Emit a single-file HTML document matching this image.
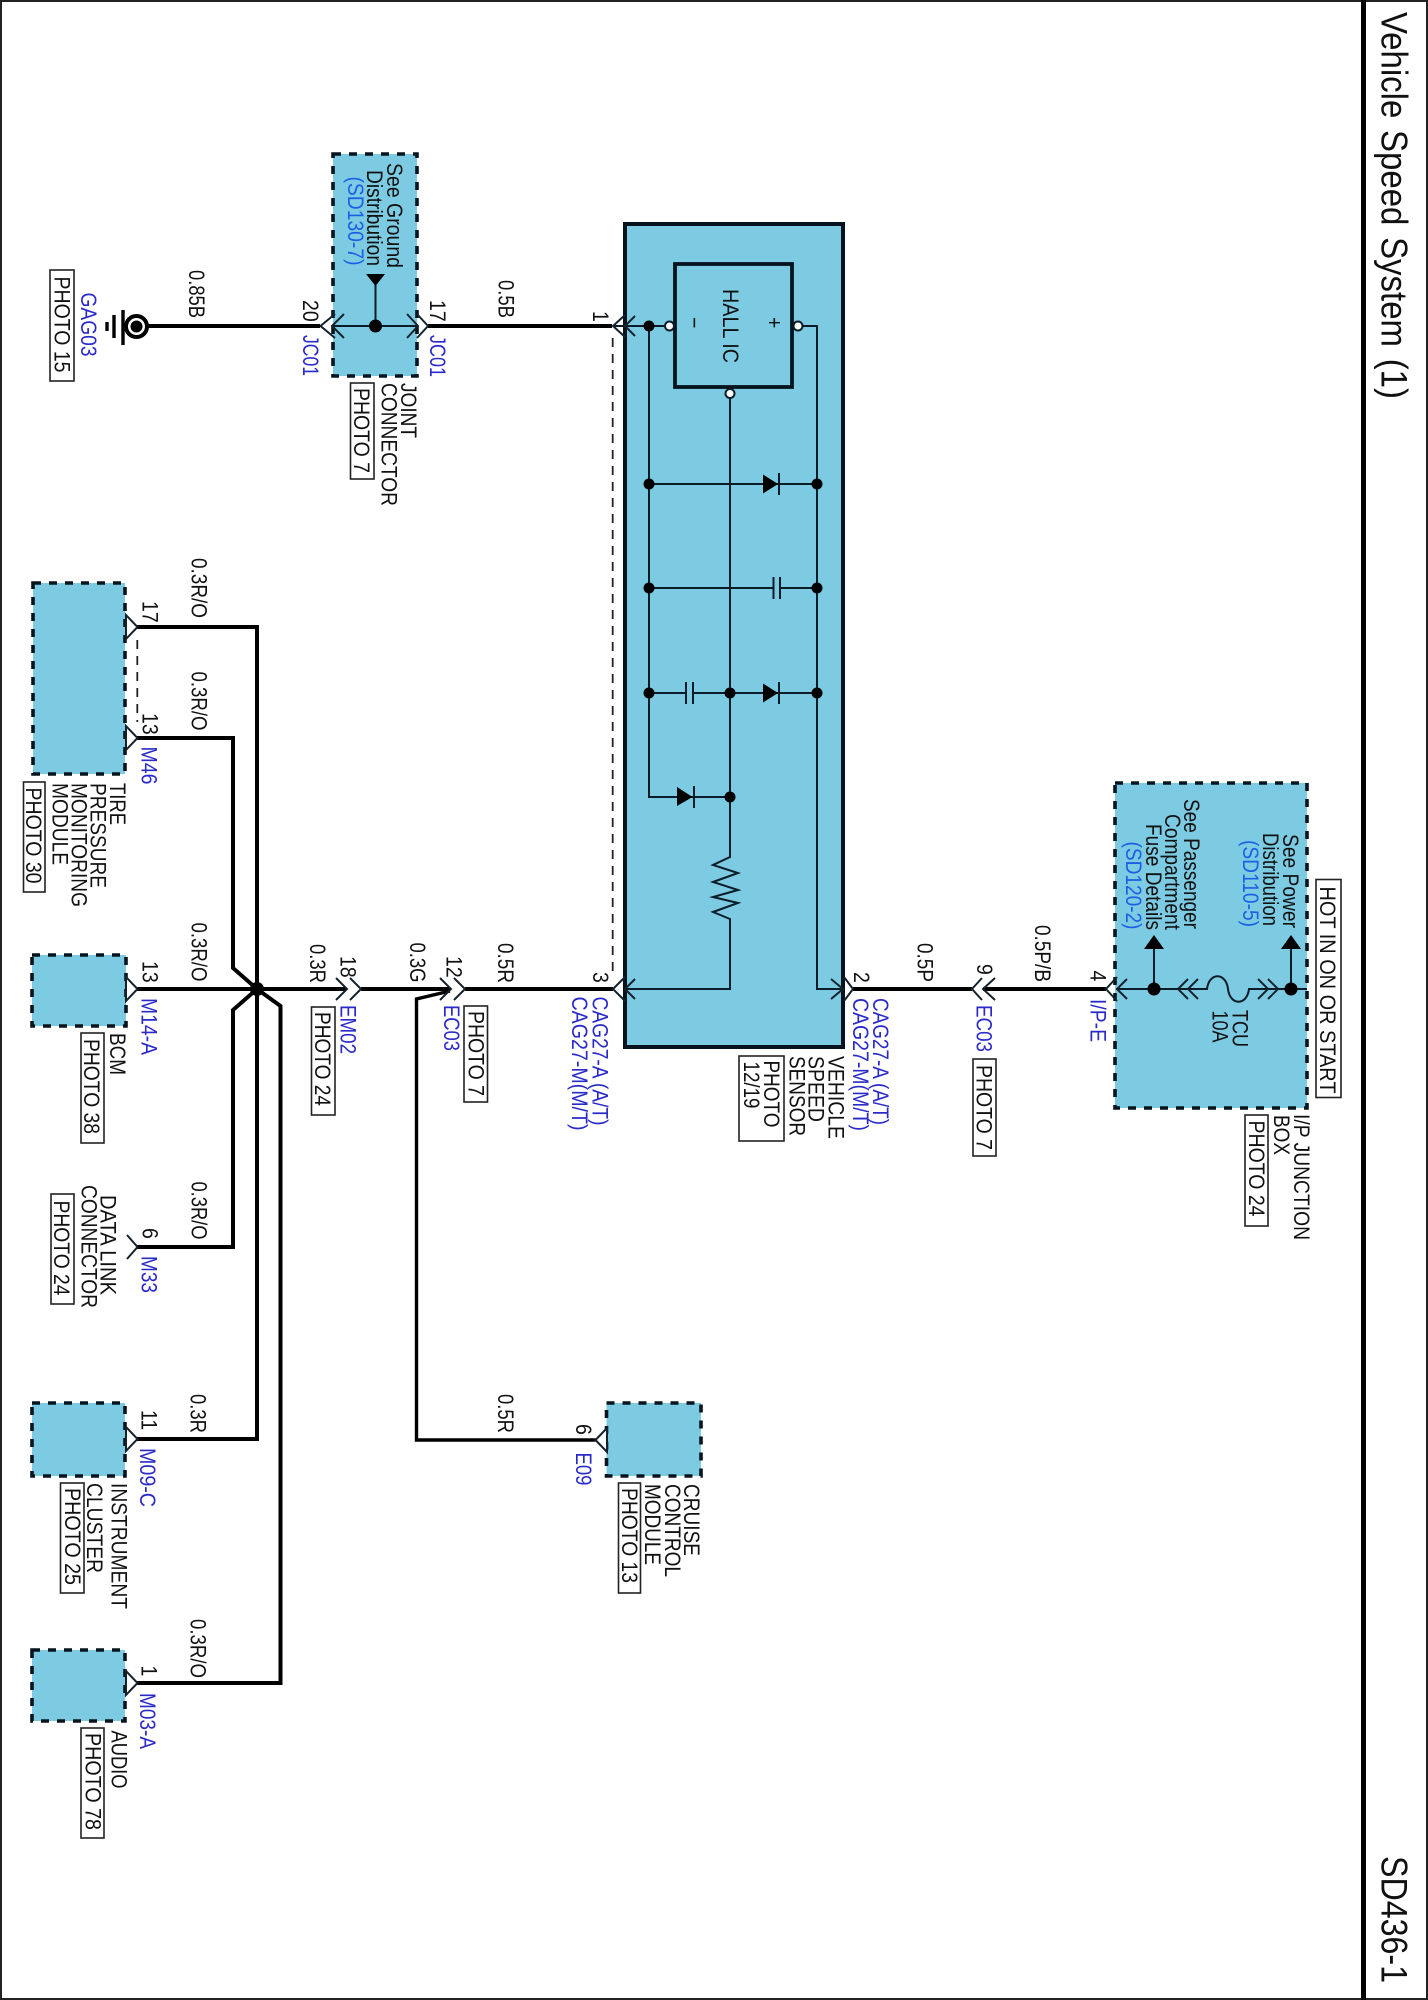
<!DOCTYPE html>
<html><head><meta charset="utf-8"><title>Vehicle Speed System (1)</title>
<style>
html,body{margin:0;padding:0;background:#fff}
svg{display:block}
text{font-family:"Liberation Sans",Arial,sans-serif;font-size:19.5px;fill:#111}
.b{fill:#2a2ac8}
.s{fill:#1b5fe6}
.box{fill:#7ccbe3;stroke:#06141e;stroke-width:3.6;stroke-dasharray:8 8}
.w{fill:none;stroke:#000;stroke-width:4}
.w3{fill:none;stroke:#000;stroke-width:3.4}
.t{fill:none;stroke:#0a1c28;stroke-width:2}
.c{fill:none;stroke:#14222c;stroke-width:2}
.m{fill:#fff;stroke:#14222c;stroke-width:2}
.p{fill:none;stroke:#222;stroke-width:1.8}
.d{fill:#000}
.o{fill:#fff;stroke:#0a1c28;stroke-width:2}
</style></head><body>
<svg width="1428" height="2000" viewBox="0 0 1428 2000" xmlns="http://www.w3.org/2000/svg">
<rect x="0" y="0" width="1428" height="2000" fill="#fff"/>
<!-- frame -->
<rect x="1" y="1" width="1426" height="1998" fill="none" stroke="#222" stroke-width="2"/>
<rect x="1361" y="0" width="5" height="2000" fill="#000"/>
<text transform="matrix(0 1 -1.15 0 1381.7 12)" style="font-size:32.5px" textLength="387" lengthAdjust="spacingAndGlyphs" word-spacing="2.5">Vehicle Speed System (1)</text>
<text transform="matrix(0 1 -1.15 0 1381.7 1856)" style="font-size:32px" textLength="127" lengthAdjust="spacingAndGlyphs">SD436-1</text>

<!-- module boxes -->
<rect class="box" x="333" y="154" width="84" height="222"/>
<rect class="box" x="33" y="583" width="92" height="191"/>
<rect class="box" x="32" y="955" width="94" height="71"/>
<rect class="box" x="32" y="1403" width="93" height="73"/>
<rect class="box" x="32" y="1650" width="93" height="71"/>
<rect class="box" x="606.5" y="1403" width="94.5" height="73"/>
<rect class="box" x="1115" y="783" width="192" height="325"/>
<!-- sensor -->
<rect x="625" y="224" width="218" height="823" fill="#7ccbe3" stroke="#04131d" stroke-width="4"/>
<rect x="675" y="264" width="117" height="123" fill="#7ccbe3" stroke="#04131d" stroke-width="3.8"/>

<!-- dashed shields -->
<path class="p" stroke-dasharray="9 7" d="M612.7 338V974"/>
<path class="p" stroke-dasharray="9 7" d="M137.3 640V722"/>

<!-- heavy wires -->
<path class="w" d="M148 326H320"/>
<path class="w" d="M428 326H612"/>
<path class="w" d="M137 627H257V1439H137"/>
<path class="w" d="M137 738H233V968L257 989L233 1010V1247H137"/>
<path class="w" d="M137 989H346"/>
<path class="w" d="M257 989L280.5 1006V1683H137"/>
<path class="w" d="M361 989H450"/>
<path class="w3" d="M450 991L416.5 999V1440H595.5"/>
<path class="w" d="M465 989H613"/>
<path class="w" d="M853 989H972"/>
<path class="w" d="M983 989H1106"/>
<circle class="d" cx="257" cy="989" r="7"/>

<!-- ground -->
<circle cx="136.5" cy="326.5" r="10.5" fill="#fff" stroke="#000" stroke-width="4"/>
<circle class="d" cx="136.5" cy="326.5" r="6"/>
<path d="M123 310V345M114 315V338M107 322V331" fill="none" stroke="#000" stroke-width="3.4"/>

<!-- JC01 internals -->
<path class="t" d="M332 326H418M375.5 285V326"/>
<polygon class="d" points="366,274 385,274 375.5,286"/>
<circle class="d" cx="375.5" cy="326" r="6.5"/>
<path class="c" d="M335 314L320.5 326L335 338"/>
<path class="c" d="M344 314L332 326L344 338"/>
<path class="c" d="M407 314L418 326L407 338"/>
<path class="c" d="M417 314L428 326L417 338"/>

<!-- sensor circuit -->
<path class="t" d="M613 326H664"/>
<path class="t" d="M649 326V797H730"/>
<path class="t" d="M730 398V857L713 865L738 873L713 882L738 890L713 897L738 903L713 912L730 919V989H625"/>
<path class="t" d="M803 326H817V989H843"/>
<path class="t" d="M649 484H817"/>
<path class="t" d="M649 588H773M780 588H817"/>
<path class="t" d="M649 693H686M693 693H817"/>
<path class="t" d="M773.5 577V599M780 577V599M686 682V704M693 682V704"/>
<path class="t" d="M779 473V495M779 682V704M694 786V808"/>
<polygon class="d" points="763,474.5 778,484 763,493.5"/>
<polygon class="d" points="763,683.5 778,693 763,702.5"/>
<polygon class="d" points="677,787 692.5,797 677,806"/>
<g class="d">
<circle cx="649" cy="326" r="5.5"/><circle cx="649" cy="484" r="5.5"/><circle cx="817" cy="484" r="5.5"/>
<circle cx="649" cy="588" r="5.5"/><circle cx="817" cy="588" r="5.5"/>
<circle cx="649" cy="693" r="5.5"/><circle cx="730" cy="693" r="5.5"/><circle cx="817" cy="693" r="5.5"/>
<circle cx="730" cy="797" r="5.5"/>
</g>
<circle class="o" cx="669.5" cy="326" r="4.5"/>
<circle class="o" cx="798" cy="326" r="4.5"/>
<circle class="o" cx="730" cy="393.5" r="4.5"/>
<path class="c" d="M625 315L613 326L625 337"/>
<path class="c" d="M635 316L625 326L635 336"/>
<path class="c" d="M625 977L613 989L625 1001"/>
<path class="c" d="M635 979L625 989L635 999"/>
<path class="c" d="M831 979L843 989L831 999"/>
<path class="c" d="M844 977L853 989L844 1001"/>

<!-- inline connectors -->
<path class="c" d="M336 978L347 989L336 1000"/>
<path class="c" d="M350 978L361 989L350 1000"/>
<path class="c" d="M440 978L451 989L440 1000"/>
<path class="c" d="M454 978L465 989L454 1000"/>
<path class="c" d="M982 978L972 989L982 1000"/>
<path class="c" d="M995 978L983 989L995 1000"/>

<!-- module connectors -->
<polygon class="m" points="126,615 137.5,627 126,639"/>
<polygon class="m" points="126,726 137.5,738 126,750"/>
<polygon class="m" points="126,977 137.5,989 126,1001"/>
<path class="c" d="M127 1235L137.5 1247L127 1259"/>
<polygon class="m" points="126,1427 137.5,1439 126,1451"/>
<polygon class="m" points="126,1671 137.5,1683 126,1695"/>
<polygon class="m" points="607,1428 595.5,1440 607,1452"/>

<!-- I/P junction internals -->
<path class="t" d="M1116 989H1207C1209 972 1226 972 1228 989C1230 1006 1247 1006 1249 989H1307"/>
<path class="t" d="M1154 949V989M1291 949V989"/>
<polygon class="d" points="1154,935 1164,949 1144,949"/>
<polygon class="d" points="1291,935 1301,949 1281,949"/>
<circle class="d" cx="1154" cy="989" r="6.5"/>
<circle class="d" cx="1291" cy="989" r="6.5"/>
<path class="c" d="M1117 977L1106 989L1117 1001"/>
<path class="c" d="M1127 979L1117 989L1127 999"/>
<path class="c" d="M1188 979L1178 989L1188 999"/>
<path class="c" d="M1198 979L1188 989L1198 999"/>
<path class="c" d="M1258 979L1268 989L1258 999"/>
<path class="c" d="M1268 979L1278 989L1268 999"/>

<!-- photo boxes -->
<g fill="#fff" stroke="#222" stroke-width="1.6">
<rect x="50" y="270" width="24" height="111"/>
<rect x="350.5" y="383" width="23.5" height="96"/>
<rect x="23.5" y="782" width="21.5" height="110"/>
<rect x="81" y="1033" width="23" height="110"/>
<rect x="311.5" y="1007" width="23.5" height="108"/>
<rect x="464" y="1006" width="23.5" height="96"/>
<rect x="51" y="1194" width="23" height="110"/>
<rect x="60.5" y="1483" width="23.5" height="110"/>
<rect x="81" y="1728" width="23" height="110"/>
<rect x="618.5" y="1483" width="22" height="110"/>
<rect x="739" y="1056" width="45" height="85"/>
<rect x="973" y="1059" width="23" height="97"/>
<rect x="1245" y="1115" width="23" height="111"/>
<rect x="1316" y="879.5" width="25" height="218"/>
</g>

<!-- labels -->
<g>
<text transform="matrix(0 1 -1.15 0 54.5 276.5)" textLength="96" lengthAdjust="spacingAndGlyphs">PHOTO 15</text>
<text class="b" transform="matrix(0 1 -1.15 0 81 292.5)" textLength="64" lengthAdjust="spacingAndGlyphs">GAG03</text>
<text transform="matrix(0 1 -1.15 0 189 270)" textLength="48" lengthAdjust="spacingAndGlyphs">0.85B</text>
<text transform="matrix(0 1 -1.15 0 303 300)">20</text>
<text class="b" transform="matrix(0 1 -1.15 0 303 335)" textLength="41" lengthAdjust="spacingAndGlyphs">JC01</text>
<text transform="matrix(0 1 -1.15 0 430 300)">17</text>
<text class="b" transform="matrix(0 1 -1.15 0 430 335)" textLength="42" lengthAdjust="spacingAndGlyphs">JC01</text>
<text transform="matrix(0 1 -1.15 0 498.5 280)" textLength="38" lengthAdjust="spacingAndGlyphs">0.5B</text>
<text transform="matrix(0 1 -1.15 0 593 311)">1</text>
<text transform="matrix(0 1 -1.15 0 387 163)" textLength="105" lengthAdjust="spacingAndGlyphs">See Ground</text>
<text transform="matrix(0 1 -1.15 0 367 170)" textLength="96" lengthAdjust="spacingAndGlyphs">Distribution</text>
<text class="s" transform="matrix(0 1 -1.15 0 348 176.5)" textLength="89" lengthAdjust="spacingAndGlyphs">(SD130-7)</text>
<text transform="matrix(0 1 -1.15 0 401 383)" textLength="55" lengthAdjust="spacingAndGlyphs">JOINT</text>
<text transform="matrix(0 1 -1.15 0 381.5 383)" textLength="123" lengthAdjust="spacingAndGlyphs">CONNECTOR</text>
<text transform="matrix(0 1 -1.15 0 354 388)" textLength="85" lengthAdjust="spacingAndGlyphs">PHOTO 7</text>

<text transform="matrix(0 1 -1.15 0 723 289)" textLength="74" lengthAdjust="spacingAndGlyphs">HALL IC</text>
<text transform="matrix(0 1 -1.15 0 687 317)">−</text>
<text transform="matrix(0 1 -1.15 0 767 317)">+</text>

<text transform="matrix(0 1 -1.15 0 191.5 558)" textLength="60" lengthAdjust="spacingAndGlyphs">0.3R/O</text>
<text transform="matrix(0 1 -1.15 0 191.5 671.5)" textLength="59" lengthAdjust="spacingAndGlyphs">0.3R/O</text>
<text transform="matrix(0 1 -1.15 0 191.5 922.5)" textLength="59" lengthAdjust="spacingAndGlyphs">0.3R/O</text>
<text transform="matrix(0 1 -1.15 0 191.5 1181.5)" textLength="58" lengthAdjust="spacingAndGlyphs">0.3R/O</text>
<text transform="matrix(0 1 -1.15 0 190.5 1619)" textLength="59" lengthAdjust="spacingAndGlyphs">0.3R/O</text>
<text transform="matrix(0 1 -1.15 0 190.5 1394)" textLength="39" lengthAdjust="spacingAndGlyphs">0.3R</text>

<text transform="matrix(0 1 -1.15 0 142.7 601)">17</text>
<text transform="matrix(0 1 -1.15 0 142.7 713)">13</text>
<text class="b" transform="matrix(0 1 -1.15 0 141.7 746.5)" textLength="38" lengthAdjust="spacingAndGlyphs">M46</text>
<text transform="matrix(0 1 -1.15 0 110 783)" textLength="42" lengthAdjust="spacingAndGlyphs">TIRE</text>
<text transform="matrix(0 1 -1.15 0 90.7 783)" textLength="105" lengthAdjust="spacingAndGlyphs">PRESSURE</text>
<text transform="matrix(0 1 -1.15 0 71.7 783)" textLength="124" lengthAdjust="spacingAndGlyphs">MONITORING</text>
<text transform="matrix(0 1 -1.15 0 52.3 783)" textLength="82" lengthAdjust="spacingAndGlyphs">MODULE</text>
<text transform="matrix(0 1 -1.15 0 26 787.5)" textLength="96" lengthAdjust="spacingAndGlyphs">PHOTO 30</text>

<text transform="matrix(0 1 -1.15 0 142.7 961)">13</text>
<text class="b" transform="matrix(0 1 -1.15 0 141.7 998)" textLength="57" lengthAdjust="spacingAndGlyphs">M14-A</text>
<text transform="matrix(0 1 -1.15 0 110 1033)" textLength="42" lengthAdjust="spacingAndGlyphs">BCM</text>
<text transform="matrix(0 1 -1.15 0 84 1039)" textLength="95" lengthAdjust="spacingAndGlyphs">PHOTO 38</text>

<text transform="matrix(0 1 -1.15 0 310 944)" textLength="39" lengthAdjust="spacingAndGlyphs">0.3R</text>
<text transform="matrix(0 1 -1.15 0 340.7 956)">18</text>
<text class="b" transform="matrix(0 1 -1.15 0 340.7 1005)" textLength="49" lengthAdjust="spacingAndGlyphs">EM02</text>
<text transform="matrix(0 1 -1.15 0 315 1012)" textLength="94" lengthAdjust="spacingAndGlyphs">PHOTO 24</text>
<text transform="matrix(0 1 -1.15 0 410 942.5)" textLength="40" lengthAdjust="spacingAndGlyphs">0.3G</text>
<text transform="matrix(0 1 -1.15 0 446.7 956)">12</text>
<text class="b" transform="matrix(0 1 -1.15 0 444 1005)" textLength="46" lengthAdjust="spacingAndGlyphs">EC03</text>
<text transform="matrix(0 1 -1.15 0 468.3 1011)" textLength="85" lengthAdjust="spacingAndGlyphs">PHOTO 7</text>
<text transform="matrix(0 1 -1.15 0 498 943)" textLength="40" lengthAdjust="spacingAndGlyphs">0.5R</text>

<text transform="matrix(0 1 -1.15 0 593 972)">3</text>
<text class="b" transform="matrix(0 1 -1.15 0 592.7 996.5)" textLength="129" lengthAdjust="spacingAndGlyphs">CAG27-A (A/T)</text>
<text class="b" transform="matrix(0 1 -1.15 0 572 996.5)" textLength="134" lengthAdjust="spacingAndGlyphs">CAG27-M(M/T)</text>
<text transform="matrix(0 1 -1.15 0 854 972)">2</text>
<text class="b" transform="matrix(0 1 -1.15 0 873 998)" textLength="127" lengthAdjust="spacingAndGlyphs">CAG27-A (A/T)</text>
<text class="b" transform="matrix(0 1 -1.15 0 853 998)" textLength="133" lengthAdjust="spacingAndGlyphs">CAG27-M(M/T)</text>
<text transform="matrix(0 1 -1.15 0 828.3 1056)" textLength="83" lengthAdjust="spacingAndGlyphs">VEHICLE</text>
<text transform="matrix(0 1 -1.15 0 808.3 1056)" textLength="66" lengthAdjust="spacingAndGlyphs">SPEED</text>
<text transform="matrix(0 1 -1.15 0 789.3 1056)" textLength="80" lengthAdjust="spacingAndGlyphs">SENSOR</text>
<text transform="matrix(0 1 -1.15 0 764 1060.5)" textLength="67" lengthAdjust="spacingAndGlyphs">PHOTO</text>
<text transform="matrix(0 1 -1.15 0 744 1061.5)" textLength="47" lengthAdjust="spacingAndGlyphs">12/19</text>

<text transform="matrix(0 1 -1.15 0 917.7 943)" textLength="39" lengthAdjust="spacingAndGlyphs">0.5P</text>
<text transform="matrix(0 1 -1.15 0 977 964)">9</text>
<text class="b" transform="matrix(0 1 -1.15 0 976.7 1005)" textLength="47" lengthAdjust="spacingAndGlyphs">EC03</text>
<text transform="matrix(0 1 -1.15 0 976.7 1065)" textLength="85" lengthAdjust="spacingAndGlyphs">PHOTO 7</text>
<text transform="matrix(0 1 -1.15 0 1035 925)" textLength="57" lengthAdjust="spacingAndGlyphs">0.5P/B</text>
<text transform="matrix(0 1 -1.15 0 1090.7 970.5)">4</text>
<text class="b" transform="matrix(0 1 -1.15 0 1090.7 999)" textLength="43" lengthAdjust="spacingAndGlyphs">I/P-E</text>

<text transform="matrix(0 1 -1.15 0 1184 799)" textLength="130" lengthAdjust="spacingAndGlyphs">See Passenger</text>
<text transform="matrix(0 1 -1.15 0 1165 814)" textLength="116" lengthAdjust="spacingAndGlyphs">Compartment</text>
<text transform="matrix(0 1 -1.15 0 1146 824)" textLength="106" lengthAdjust="spacingAndGlyphs">Fuse Details</text>
<text class="s" transform="matrix(0 1 -1.15 0 1126 841.5)" textLength="88" lengthAdjust="spacingAndGlyphs">(SD120-2)</text>
<text transform="matrix(0 1 -1.15 0 1283 834)" textLength="94" lengthAdjust="spacingAndGlyphs">See Power</text>
<text transform="matrix(0 1 -1.15 0 1263 833)" textLength="93" lengthAdjust="spacingAndGlyphs">Distribution</text>
<text class="s" transform="matrix(0 1 -1.15 0 1243 840)" textLength="87" lengthAdjust="spacingAndGlyphs">(SD110-5)</text>
<text transform="matrix(0 1 -1.15 0 1232.7 1010)" textLength="37" lengthAdjust="spacingAndGlyphs">TCU</text>
<text transform="matrix(0 1 -1.15 0 1212.7 1010.5)" textLength="32" lengthAdjust="spacingAndGlyphs">10A</text>
<text transform="matrix(0 1 -1.15 0 1320 886.5)" textLength="207" lengthAdjust="spacingAndGlyphs">HOT IN ON OR START</text>
<text transform="matrix(0 1 -1.15 0 1294 1114)" textLength="126" lengthAdjust="spacingAndGlyphs">I/P JUNCTION</text>
<text transform="matrix(0 1 -1.15 0 1274 1115)" textLength="40" lengthAdjust="spacingAndGlyphs">BOX</text>
<text transform="matrix(0 1 -1.15 0 1249 1120.5)" textLength="96" lengthAdjust="spacingAndGlyphs">PHOTO 24</text>

<text class="b" transform="matrix(0 1 -1.15 0 141.7 1256)" textLength="37" lengthAdjust="spacingAndGlyphs">M33</text>
<text transform="matrix(0 1 -1.15 0 142.7 1228)">6</text>
<text transform="matrix(0 1 -1.15 0 100.7 1195)" textLength="100" lengthAdjust="spacingAndGlyphs">DATA LINK</text>
<text transform="matrix(0 1 -1.15 0 81.7 1185)" textLength="123" lengthAdjust="spacingAndGlyphs">CONNECTOR</text>
<text transform="matrix(0 1 -1.15 0 54 1200.5)" textLength="95" lengthAdjust="spacingAndGlyphs">PHOTO 24</text>

<text transform="matrix(0 1 -1.15 0 141.5 1410)">11</text>
<text class="b" transform="matrix(0 1 -1.15 0 140 1448)" textLength="59" lengthAdjust="spacingAndGlyphs">M09-C</text>
<text transform="matrix(0 1 -1.15 0 111.5 1483)" textLength="126" lengthAdjust="spacingAndGlyphs">INSTRUMENT</text>
<text transform="matrix(0 1 -1.15 0 87 1483)" textLength="90" lengthAdjust="spacingAndGlyphs">CLUSTER</text>
<text transform="matrix(0 1 -1.15 0 65 1488)" textLength="97" lengthAdjust="spacingAndGlyphs">PHOTO 25</text>

<text transform="matrix(0 1 -1.15 0 141.5 1665.5)">1</text>
<text class="b" transform="matrix(0 1 -1.15 0 140 1693)" textLength="56" lengthAdjust="spacingAndGlyphs">M03-A</text>
<text transform="matrix(0 1 -1.15 0 111.5 1730.5)" textLength="58" lengthAdjust="spacingAndGlyphs">AUDIO</text>
<text transform="matrix(0 1 -1.15 0 85.4 1733)" textLength="97" lengthAdjust="spacingAndGlyphs">PHOTO 78</text>

<text transform="matrix(0 1 -1.15 0 498 1394)" textLength="39" lengthAdjust="spacingAndGlyphs">0.5R</text>
<text transform="matrix(0 1 -1.15 0 576 1424)">6</text>
<text class="b" transform="matrix(0 1 -1.15 0 576 1452.5)" textLength="33" lengthAdjust="spacingAndGlyphs">E09</text>
<text transform="matrix(0 1 -1.15 0 684 1484)" textLength="72" lengthAdjust="spacingAndGlyphs">CRUISE</text>
<text transform="matrix(0 1 -1.15 0 665 1484)" textLength="93" lengthAdjust="spacingAndGlyphs">CONTROL</text>
<text transform="matrix(0 1 -1.15 0 645 1484)" textLength="81" lengthAdjust="spacingAndGlyphs">MODULE</text>
<text transform="matrix(0 1 -1.15 0 622 1488)" textLength="95" lengthAdjust="spacingAndGlyphs">PHOTO 13</text>
</g>
</svg>
</body></html>
